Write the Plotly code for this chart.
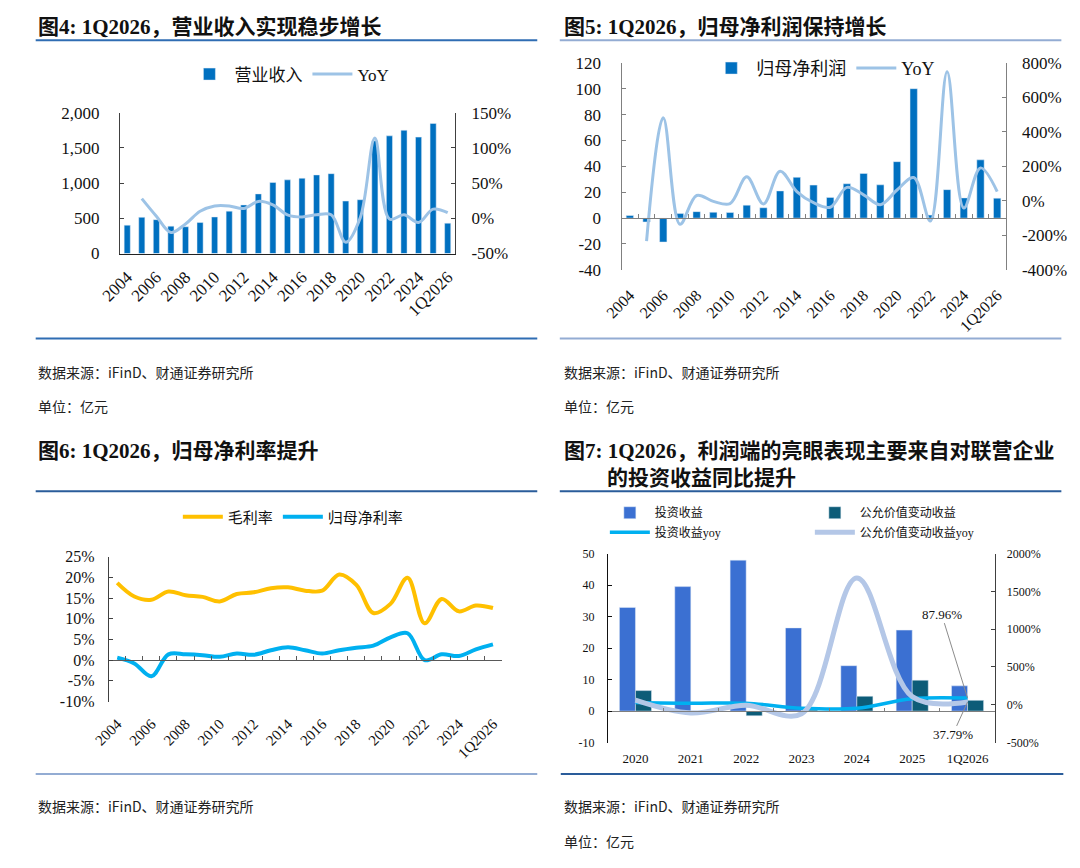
import plotly.graph_objects as go

W, H = 1080, 868

# ---------------- data ----------------
years = [str(y) for y in range(2004, 2026)] + ["1Q2026"]
year_ticks = [str(y) for y in range(2004, 2025, 2)] + ["1Q2026"]

revenue = [403, 514, 481, 389, 380, 440, 519, 602, 690, 847, 1009, 1046, 1069,
           1116, 1134, 745, 764, 1600, 1671, 1750, 1653, 1847, 431]
revenue_yoy = [None, 28, 3, -20, -8, 10, 17.6, 17.6, 14, 24, 19, 5, 2, 5, 5,
               -34, 1, 114, -1, 5, -6, 13, 8]

profit = [2.0, -3.0, -18.5, 3.5, 5.0, 4.5, 4.3, 10.0, 8.0, 21.0, 31.5, 25.5, 16.0,
          26.5, 34.5, 25.7, 43.6, 100.0, 2.3, 22.0, 15.6, 45.0, 15.4]
profit_yoy = [None, -234, 482, -136, 31, -3, -16, 139, -18, 172, 54, -11, -37,
              78, 35, -22, 63, 135, -117, 748, -41, 191, 54]

gross_margin = [18.7, 15.4, 14.6, 16.6, 15.7, 15.3, 14.2, 16.0, 16.4, 17.4, 17.6, 16.8,
                16.8, 20.7, 18.2, 11.4, 13.6, 19.9, 8.9, 14.8, 11.8, 13.2, 12.6]
net_margin = [0.6, -0.8, -3.9, 1.4, 1.4, 1.2, 0.8, 1.6, 1.3, 2.4, 3.1, 2.4, 1.6,
              2.4, 3.0, 3.5, 5.5, 6.5, 0.0, 1.4, 1.0, 2.6, 3.8]

cats7 = ["2020", "2021", "2022", "2023", "2024", "2025", "1Q2026"]
invest_income = [32.9, 39.5, 47.9, 26.4, 14.4, 25.7, 8.0]
fair_value_income = [6.5, -0.4, -1.5, 0.3, 4.7, 9.8, 3.4]
invest_yoy = [30, 20, 21, -45, -45, 80, 87.96]
fair_value_yoy = [60, -110, -5, -119, 1677, 108, 37.79]

# tick labels
rev_tickvals = [0, 500, 1000, 1500, 2000]
rev_ticktext = ["0", "500", "1,000", "1,500", "2,000"]
revyoy_tickvals = [-50, 0, 50, 100, 150]
revyoy_ticktext = ["-50%", "0%", "50%", "100%", "150%"]
profit_tickvals = [-40, -20, 0, 20, 40, 60, 80, 100, 120]
profit_ticktext = ["-40", "-20", "0", "20", "40", "60", "80", "100", "120"]
profyoy_tickvals = [-400, -200, 0, 200, 400, 600, 800]
profyoy_ticktext = ["-400%", "-200%", "0%", "200%", "400%", "600%", "800%"]
margin_tickvals = [-10, -5, 0, 5, 10, 15, 20, 25]
margin_ticktext = ["-10%", "-5%", "0%", "5%", "10%", "15%", "20%", "25%"]
inv_tickvals = [-10, 0, 10, 20, 30, 40, 50]
inv_ticktext = ["-10", "0", "10", "20", "30", "40", "50"]
invyoy_tickvals = [-500, 0, 500, 1000, 1500, 2000]
invyoy_ticktext = ["-500%", "0%", "500%", "1000%", "1500%", "2000%"]

# ---------------- helpers ----------------
SERIF = "Liberation Serif, Times New Roman, Noto Sans CJK SC, serif"
CJK = "Noto Sans CJK SC, sans-serif"


def px_x(a, b):
    return [a / W, b / W]


def px_y(top, bottom):
    return [1 - bottom / H, 1 - top / H]


def zero_pos(dom, rng):
    return dom[0] + (0 - rng[0]) / (rng[1] - rng[0]) * (dom[1] - dom[0])


def tf(size):
    return dict(family=SERIF, size=size, color="#111111")


fig = go.Figure()

# ---------------- panel 1 ----------------
fig.add_trace(go.Bar(x=years, y=revenue, name="营业收入", marker_color="#0070C0",
                     width=0.42, xaxis="x", yaxis="y", legend="legend"))
fig.add_trace(go.Scatter(x=years, y=revenue_yoy, name="YoY", mode="lines",
                         line=dict(color="#9DC3E6", width=3, shape="spline"),
                         xaxis="x", yaxis="y2", legend="legend"))

# ---------------- panel 2 ----------------
fig.add_trace(go.Bar(x=years, y=profit, name="归母净利润", marker_color="#0070C0",
                     width=0.44, xaxis="x2", yaxis="y3", legend="legend2"))
fig.add_trace(go.Scatter(x=years, y=profit_yoy, name="YoY", mode="lines",
                         line=dict(color="#9DC3E6", width=3, shape="spline"),
                         xaxis="x2", yaxis="y4", legend="legend2"))
fig.add_trace(go.Scatter(x=years, y=[None] * len(years), mode="lines", showlegend=False,
                         hoverinfo="skip", xaxis="x3", yaxis="y3"))

# ---------------- panel 3 ----------------
fig.add_trace(go.Scatter(x=years, y=gross_margin, name="毛利率", mode="lines",
                         line=dict(color="#FFC000", width=4, shape="spline"),
                         xaxis="x4", yaxis="y5", legend="legend3"))
fig.add_trace(go.Scatter(x=years, y=net_margin, name="归母净利率", mode="lines",
                         line=dict(color="#00B0F0", width=4, shape="spline"),
                         xaxis="x4", yaxis="y5", legend="legend3"))
fig.add_trace(go.Scatter(x=years, y=[None] * len(years), mode="lines", showlegend=False,
                         hoverinfo="skip", xaxis="x5", yaxis="y5"))

# ---------------- panel 4 ----------------
fig.add_trace(go.Bar(x=cats7, y=invest_income, name="投资收益", marker_color="#3B70D2",
                     width=0.29, offset=-0.29, xaxis="x6", yaxis="y6", legend="legend4"))
fig.add_trace(go.Bar(x=cats7, y=fair_value_income, name="公允价值变动收益", marker_color="#0D5C78",
                     width=0.29, offset=0, xaxis="x6", yaxis="y6", legend="legend4"))
fig.add_trace(go.Scatter(x=cats7, y=invest_yoy, name="投资收益yoy", mode="lines",
                         line=dict(color="#00B0F0", width=3.5, shape="spline"),
                         xaxis="x6", yaxis="y7", legend="legend5"))
fig.add_trace(go.Scatter(x=cats7, y=fair_value_yoy, name="公允价值变动收益yoy", mode="lines",
                         line=dict(color="#B4C7E7", width=5, shape="spline"),
                         xaxis="x6", yaxis="y7", legend="legend5"))
fig.add_trace(go.Scatter(x=cats7, y=[None] * len(cats7), mode="lines", showlegend=False,
                         hoverinfo="skip", xaxis="x7", yaxis="y6"))

# ---------------- axes ----------------
d1x, d1y = px_x(101, 443), px_y(106, 250)
d2x, d2y = px_x(613, 1005), px_y(55, 266.7)
d3x, d3y = px_x(89.5, 490.5), px_y(560, 708)
d4x, d4y = px_x(599, 994.5), px_y(556.7, 750)

r_profit = [-40, 120]
r_margin = [-10, 25]
r_inv = [-10, 50]

cat_common = dict(type="category", categoryorder="array", showgrid=False, zeroline=False,
                  fixedrange=True)
ncat = len(years)

label_x = dict(cat_common, categoryarray=years, range=[-0.5, ncat - 0.5], tickmode="array",
               tickvals=year_ticks, ticktext=year_ticks, tickangle=-45, ticks="")

ycommon = dict(showgrid=False, zeroline=False, ticks="inside", ticklen=4, showline=True,
               fixedrange=True)

fig.update_layout(
    xaxis=dict(label_x, domain=d1x, anchor="y", showline=True, linecolor="#222222",
               linewidth=1, tickfont=tf(17), ticklabelstandoff=6),
    yaxis=dict(ycommon, domain=d1y, anchor="x", range=[0, 2000], tickvals=rev_tickvals,
               ticktext=rev_ticktext, linecolor="#404040", tickcolor="#404040",
               tickfont=tf(17), ticklabelstandoff=16),
    yaxis2=dict(ycommon, overlaying="y", side="right", anchor="x", range=[-50, 150],
                tickvals=revyoy_tickvals, ticktext=revyoy_ticktext, linecolor="#404040",
                tickcolor="#404040", tickfont=tf(17), ticklabelstandoff=12),

    xaxis2=dict(label_x, domain=d2x, anchor="y3", showline=False, tickfont=tf(16),
                ticklabelstandoff=12),
    xaxis3=dict(cat_common, categoryarray=years, range=[-0.5, ncat - 0.5], overlaying="x2",
                anchor="free", position=zero_pos(d2y, r_profit), tickmode="array",
                tickvals=years, tickson="boundaries", ticks="inside", ticklen=4,
                showticklabels=False, showline=True, linecolor="#808080", tickcolor="#808080"),
    yaxis3=dict(ycommon, domain=d2y, anchor="x2", range=r_profit, tickvals=profit_tickvals,
                ticktext=profit_ticktext, linecolor="#808080", tickcolor="#808080",
                tickfont=tf(17), ticklabelstandoff=16),
    yaxis4=dict(ycommon, overlaying="y3", side="right", anchor="x2", range=[-400, 800],
                tickvals=profyoy_tickvals, ticktext=profyoy_ticktext, linecolor="#808080",
                tickcolor="#808080", tickfont=tf(17), ticklabelstandoff=12),

    xaxis4=dict(label_x, domain=d3x, anchor="y5", showline=False, tickfont=tf(15),
                ticklabelstandoff=10),
    xaxis5=dict(cat_common, categoryarray=years, range=[-0.5, ncat - 0.5], overlaying="x4",
                anchor="free", position=zero_pos(d3y, r_margin), tickmode="array",
                tickvals=years, tickson="boundaries", ticks="inside", ticklen=4,
                showticklabels=False, showline=True, linecolor="#595959", tickcolor="#595959"),
    yaxis5=dict(ycommon, domain=d3y, anchor="x4", range=r_margin, tickvals=margin_tickvals,
                ticktext=margin_ticktext, linecolor="#404040", tickcolor="#404040",
                tickfont=tf(16), ticklabelstandoff=10),

    xaxis6=dict(cat_common, categoryarray=cats7, range=[-0.5, 6.5], domain=d4x, anchor="y6",
                tickmode="array", tickvals=cats7, ticktext=cats7, ticks="", showline=False,
                tickfont=tf(13), ticklabelstandoff=6),
    xaxis7=dict(cat_common, categoryarray=cats7, range=[-0.5, 6.5], overlaying="x6",
                anchor="free", position=zero_pos(d4y, r_inv), tickmode="array",
                tickvals=cats7, tickson="boundaries", ticks="inside", ticklen=3,
                showticklabels=False, showline=True, linecolor="#7F7F7F", tickcolor="#7F7F7F"),
    yaxis6=dict(ycommon, domain=d4y, anchor="x6", range=r_inv, tickvals=inv_tickvals,
                ticktext=inv_ticktext, linecolor="#111111", tickcolor="#111111",
                tickfont=tf(12), ticklabelstandoff=10),
    yaxis7=dict(ycommon, overlaying="y6", side="right", anchor="x6", range=[-500, 2000],
                tickvals=invyoy_tickvals, ticktext=invyoy_ticktext, linecolor="#404040",
                tickcolor="#404040", tickfont=tf(12), ticklabelstandoff=8),
)

# ---------------- legends ----------------
leg_common = dict(orientation="h", bgcolor="rgba(0,0,0,0)", borderwidth=0, itemwidth=40,
                  itemclick=False, itemdoubleclick=False)
fig.update_layout(
    legend=dict(leg_common, x=274 / W, y=1 - 67 / H, xanchor="center", yanchor="middle",
                font=dict(family=SERIF, size=17, color="#111111")),
    legend2=dict(leg_common, x=819 / W, y=1 - 60.7 / H, xanchor="center", yanchor="middle",
                 font=dict(family=SERIF, size=18, color="#111111")),
    legend3=dict(leg_common, x=278 / W, y=1 - 519.3 / H, xanchor="center", yanchor="middle",
                 font=dict(family=SERIF, size=15, color="#111111")),
    legend4=dict(leg_common, x=596 / W, y=1 - 515 / H, xanchor="left", yanchor="middle",
                 entrywidth=150, font=dict(family=SERIF, size=12, color="#111111")),
    legend5=dict(leg_common, x=596 / W, y=1 - 535 / H, xanchor="left", yanchor="middle",
                 entrywidth=150, font=dict(family=SERIF, size=12, color="#111111")),
)

# ---------------- text & rules ----------------
annotations = []


def add_text(text, x, y, size, family=SERIF, color="#111111", xanchor="left"):
    annotations.append(dict(text=text, x=x / W, y=1 - y / H, xref="paper", yref="paper",
                            xanchor=xanchor, yanchor="middle", showarrow=False,
                            font=dict(family=family, size=size, color=color)))


add_text("<b>图4: 1Q2026，营业收入实现稳步增长</b>", 15, 18, 21)
add_text("<b>图5: 1Q2026，归母净利润保持增长</b>", 552, 18, 21)
add_text("<b>图6: 1Q2026，归母净利率提升</b>", 15, 452, 21)
add_text("<b>图7: 1Q2026，利润端的亮眼表现主要来自对联营企业</b>", 552, 452, 21)
add_text("<b>的投资收益同比提升</b>", 596, 480, 21)

src = "数据来源：iFinD、财通证券研究所"
unit = "单位：亿元"
add_text(src, 15, 371, 14, family=CJK, color="#222222")
add_text(unit, 15, 406, 14, family=CJK, color="#222222")
add_text(src, 552, 371, 14, family=CJK, color="#222222")
add_text(unit, 552, 406, 14, family=CJK, color="#222222")
add_text(src, 15, 815, 14, family=CJK, color="#222222")
add_text(src, 552, 815, 14, family=CJK, color="#222222")
add_text(unit, 552, 851, 14, family=CJK, color="#222222")

# callouts for the latest quarter
annotations.append(dict(x="1Q2026", y=invest_yoy[-1], xref="x6", yref="y7",
                        text=f"{invest_yoy[-1]:.2f}%", showarrow=True, arrowhead=0,
                        arrowwidth=1, arrowcolor="#8C8C8C", ax=-26, ay=-84,
                        font=tf(13)))
annotations.append(dict(x="1Q2026", y=fair_value_yoy[-1], xref="x6", yref="y7",
                        text=f"{fair_value_yoy[-1]:.2f}%", showarrow=True, arrowhead=0,
                        arrowwidth=1, arrowcolor="#8C8C8C", ax=-15, ay=33,
                        font=tf(13)))

shapes = []


def rule(x0, x1, y, color, width=2):
    shapes.append(dict(type="line", xref="paper", yref="paper", x0=x0 / W, x1=x1 / W,
                       y0=1 - y / H, y1=1 - y / H, line=dict(color=color, width=width)))


DARK = "#2A5C9A"
LIGHT = "#93ACD3"
rule(15, 527, 32, "#2F6DB3")
rule(550, 1062, 32, LIGHT)
rule(15, 527, 337, "#2F6DB3")
rule(550, 1062, 337, LIGHT)
rule(15, 527, 493, DARK)
rule(550, 1062, 493, DARK)
rule(15, 527, 782, LIGHT)
rule(551, 1064, 782, DARK)

fig.update_layout(
    annotations=annotations, shapes=shapes,
    width=W, height=H, margin=dict(l=0, r=0, t=0, b=0),
    paper_bgcolor="white", plot_bgcolor="white",
    barmode="overlay", showlegend=True,
    font=dict(family=SERIF, color="#111111"),
)

fig.write_html("out.html")
